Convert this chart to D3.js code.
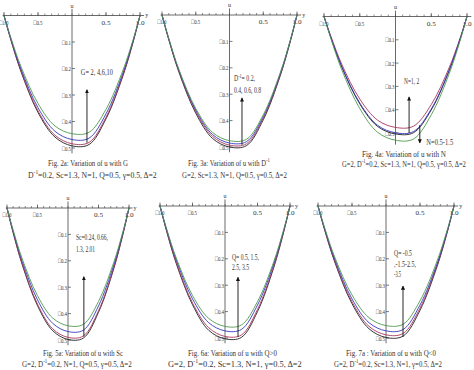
<!DOCTYPE html>
<html>
<head>
<meta charset="utf-8">
<script src="https://cdn.jsdelivr.net/npm/d3@7"></script>
<style>
  body { margin: 0; background: #fff; }
  svg { display: block; }
  text { font-family: "Liberation Serif", "Times New Roman", serif; fill: #333; }
</style>
</head>
<body>
<svg id="chart" width="474" height="370"></svg>
<script>
// sample positions across the channel (y) and tick labels
const ySamples = [-1, -0.9, -0.75, -0.5, -0.25, 0, 0.25, 0.5, 0.75, 0.9, 1];
const xTickValues = [-1, -0.5, 0.5, 1];
const xTickLabels = ["\u25A11.0", "\u25A10.5", "0.5", "1.0"];
const uTickValues = [-0.1, -0.2, -0.3, -0.4, -0.5];
const uTickLabels = ["\u25A10.1", "\u25A10.2", "\u25A10.3", "\u25A10.4", "\u25A10.5"];
const curveColors = ["#4f9a4f", "#3838c0", "#a8375e", "#202020"];

// velocity u: green, blue, red, black
const uWithG = [
  [0, -0.083, -0.193, -0.332, -0.417, -0.446, -0.441, -0.354, -0.206, -0.090, 0],
  [0, -0.087, -0.202, -0.348, -0.437, -0.468, -0.463, -0.371, -0.216, -0.094, 0],
  [0, -0.090, -0.209, -0.360, -0.452, -0.484, -0.479, -0.384, -0.224, -0.097, 0],
  [0, -0.091, -0.212, -0.366, -0.459, -0.492, -0.487, -0.390, -0.227, -0.099, 0]
];
const uWithD = [
  [0, -0.088, -0.206, -0.354, -0.445, -0.476, -0.471, -0.378, -0.220, -0.096, 0],
  [0, -0.090, -0.209, -0.360, -0.453, -0.485, -0.480, -0.385, -0.224, -0.097, 0],
  [0, -0.092, -0.213, -0.366, -0.460, -0.493, -0.488, -0.391, -0.228, -0.099, 0],
  [0, -0.093, -0.216, -0.372, -0.468, -0.500, -0.495, -0.397, -0.231, -0.101, 0]
];
const uWithN = [
  [0, -0.099, -0.230, -0.395, -0.497, -0.531, -0.526, -0.422, -0.246, -0.107, 0],
  [0, -0.093, -0.216, -0.371, -0.467, -0.499, -0.494, -0.397, -0.231, -0.100, 0],
  [0, -0.088, -0.206, -0.354, -0.445, -0.476, -0.471, -0.378, -0.220, -0.096, 0],
  [0, -0.094, -0.218, -0.375, -0.472, -0.504, -0.499, -0.401, -0.233, -0.101, 0]
];
const uWithSc = [
  [0, -0.083, -0.193, -0.332, -0.417, -0.446, -0.441, -0.354, -0.206, -0.090, 0],
  [0, -0.087, -0.202, -0.348, -0.437, -0.468, -0.463, -0.371, -0.216, -0.094, 0],
  [0, -0.091, -0.212, -0.364, -0.458, -0.490, -0.485, -0.389, -0.226, -0.098, 0],
  [0, -0.093, -0.215, -0.370, -0.465, -0.498, -0.493, -0.395, -0.230, -0.100, 0]
];
const uWithQpos = [
  [0, -0.085, -0.197, -0.339, -0.426, -0.456, -0.451, -0.362, -0.211, -0.092, 0],
  [0, -0.088, -0.204, -0.352, -0.442, -0.473, -0.468, -0.375, -0.219, -0.095, 0],
  [0, -0.092, -0.213, -0.367, -0.461, -0.494, -0.489, -0.392, -0.228, -0.099, 0],
  [0, -0.094, -0.218, -0.374, -0.471, -0.503, -0.498, -0.400, -0.233, -0.101, 0]
];
const uWithQneg = [
  [0, -0.084, -0.196, -0.337, -0.423, -0.453, -0.448, -0.359, -0.209, -0.091, 0],
  [0, -0.088, -0.204, -0.352, -0.442, -0.473, -0.468, -0.375, -0.219, -0.095, 0],
  [0, -0.091, -0.211, -0.363, -0.456, -0.488, -0.483, -0.387, -0.225, -0.098, 0],
  [0, -0.093, -0.215, -0.370, -0.465, -0.498, -0.493, -0.395, -0.230, -0.100, 0]
];

const panels = [
  { data: uWithG, px: [4, 140], py: [15.5, 148], uBottom: -0.52, yLabel: true,
    caption: [["Fig. 2a: Variation of u with G", 88, 166, 80], ["D|-1|=0.2, Sc=1.3, N=1, Q=0.5, \u03b3=0.5, \u0394=2", 92.5, 178, 129]],
    notes: [["G= 2, 4,6,10", 0.13, -0.225, 32]],
    arrows: [[0.22, -0.48, -0.28]] },
  { data: uWithD, px: [162, 297], py: [15, 147], uBottom: -0.52, yLabel: true,
    caption: [["Fig. 3a: Variation of u with D|-1|", 229, 166, 82], ["G=2, Sc=1.3, N=1, Q=0.5, \u03b3=0.5, \u0394=2", 234.5, 178, 105]],
    notes: [["D|-1|= 0.2,", 0.067, -0.25, 21], ["0.4, 0.6, 0.8", 0.067, -0.295, 27]],
    arrows: [[0.185, -0.492, -0.314]] },
  { data: uWithN, px: [324, 467], py: [16.5, 133], uBottom: -0.55, yLabel: false,
    caption: [["Fig. 4a: Variation of u with N", 404, 156.5, 84], ["G=2, D|-1|=0.2, Sc=1.3, N=1, Q=0.5, \u03b3=0.5, \u0394=2", 404, 167, 124]],
    notes: [["N=1, 2", 0.12, -0.29, 15], ["N=0.5-1.5", 0.43, -0.55, 27]],
    arrows: [[0.19, -0.5, -0.345], [0.34, -0.466, -0.543]] },
  { data: uWithSc, px: [7, 129], py: [208, 340], uBottom: -0.52, yLabel: true,
    caption: [["Fig. 5a: Variation of u with Sc", 83, 355.5, 80], ["G=2, D|-1|=0.2, N=1, Q=0.5, \u03b3=0.5, \u0394=2", 77, 366.5, 110]],
    notes: [["Sc=0.24, 0.66,", 0.13, -0.121, 32], ["1.3, 2.01", 0.13, -0.166, 19]],
    arrows: [[0.26, -0.487, -0.26]] },
  { data: uWithQpos, px: [160, 290], py: [206, 338], uBottom: -0.52, yLabel: true,
    caption: [["Fig. 6a: Variation of u with Q>0", 232.5, 355.5, 89], ["G=2, D|-1|=0.2, Sc=1.3, N=1,  \u03b3=0.5, \u0394=2", 235, 366.5, 134]],
    notes: [["Q= 0.5, 1.5,", 0.108, -0.205, 27], ["2.5, 3.5", 0.108, -0.242, 17]],
    arrows: [[0.2, -0.496, -0.27]] },
  { data: uWithQneg, px: [318, 454], py: [206, 338], uBottom: -0.52, yLabel: true,
    caption: [["Fig. 7a : Variation of u with Q<0", 391, 355.5, 90], ["G=2, D|-1|=0.2, Sc=1.3, N=1, \u03b3=0.5, \u0394=2", 388, 366.5, 108]],
    notes: [["Q= -0.5", 0.118, -0.19, 18], [",-1.5-2.5,", 0.118, -0.231, 22], ["-3.5", 0.118, -0.269, 7]],
    arrows: [[0.25, -0.496, -0.303]] }
];

const svg = d3.select("#chart");

svg.append("defs").append("marker")
  .attr("id", "head")
  .attr("viewBox", "0 0 10 10")
  .attr("refX", 9).attr("refY", 5)
  .attr("markerWidth", 4.5).attr("markerHeight", 5.5)
  .attr("orient", "auto")
  .append("path")
  .attr("d", "M0,0 L10,5 L0,10 Z")
  .attr("fill", "#111");

// text with "|-1|" parts as superscripts, squeezed sideways to a given width
function squeezedText(parent, str, x, y, size, width, anchor) {
  const t = parent.append("text").style("font-size", size + "px");
  str.split("|").forEach(function (p, i) {
    if (p === "") return;
    const s = t.append("tspan").text(p);
    if (i % 2 === 1) s.attr("dy", -0.4 * size).style("font-size", (0.7 * size) + "px");
    else if (i > 0) s.attr("dy", 0.4 * size);
  });
  const w = t.node().getComputedTextLength();
  const k = w > 0 ? width / w : 1;
  let left = x;
  if (anchor === "middle") left = x - width / 2;
  if (anchor === "end") left = x - width;
  t.attr("transform", "translate(" + left + "," + y + ") scale(" + k + ",1)");
  return t;
}

panels.forEach(function (p) {
  const x = d3.scaleLinear().domain([-1, 1]).range(p.px);
  const u = d3.scaleLinear().domain([0, -0.5]).range(p.py);
  const g = svg.append("g");

  // x axis
  g.append("line")
    .attr("x1", x(-1.02)).attr("x2", x(1.06))
    .attr("y1", u(0)).attr("y2", u(0))
    .attr("stroke", "#444").attr("stroke-width", 0.8);
  const minor = d3.range(-10, 11).map(function (k) { return k / 10; });
  g.selectAll(".minor").data(minor).enter().append("line")
    .attr("x1", function (d) { return x(d); }).attr("x2", function (d) { return x(d); })
    .attr("y1", u(0)).attr("y2", u(0) - 2)
    .attr("stroke", "#444").attr("stroke-width", 0.6);
  g.selectAll(".major").data(xTickValues).enter().append("line")
    .attr("x1", function (d) { return x(d); }).attr("x2", function (d) { return x(d); })
    .attr("y1", u(0)).attr("y2", u(0) - 3.5)
    .attr("stroke", "#444").attr("stroke-width", 0.7);
  xTickValues.forEach(function (d, i) {
    squeezedText(g, xTickLabels[i], x(d), u(0) + 9, 7, 9, "middle");
  });

  // u axis
  g.append("line")
    .attr("x1", x(0)).attr("x2", x(0))
    .attr("y1", u(0.025)).attr("y2", u(p.uBottom))
    .attr("stroke", "#444").attr("stroke-width", 0.8);
  g.selectAll(".ut").data(uTickValues).enter().append("line")
    .attr("x1", x(0)).attr("x2", x(0) + 3)
    .attr("y1", function (d) { return u(d); }).attr("y2", function (d) { return u(d); })
    .attr("stroke", "#444").attr("stroke-width", 0.7);
  uTickValues.forEach(function (d, i) {
    squeezedText(g, uTickLabels[i], x(0) - 1, u(d) + 2.5, 7, 9, "end");
  });

  g.append("text").attr("x", x(0)).attr("y", u(0) - 8)
    .attr("text-anchor", "middle").style("font-size", "6px").text("u");
  if (p.yLabel) {
    g.append("text").attr("x", x(1.1)).attr("y", u(0) + 1.5)
      .attr("text-anchor", "middle").style("font-size", "6px").text("y");
  }

  // curves (black first, green last)
  const line = d3.line()
    .x(function (d, i) { return x(ySamples[i]); })
    .y(function (d) { return u(d); })
    .curve(d3.curveCatmullRom.alpha(0.5));
  [3, 2, 1, 0].forEach(function (k) {
    g.append("path")
      .datum(p.data[k])
      .attr("d", line)
      .attr("fill", "none")
      .attr("stroke", curveColors[k])
      .attr("stroke-width", 0.9);
  });

  // arrows
  p.arrows.forEach(function (a) {
    g.append("line")
      .attr("x1", x(a[0])).attr("x2", x(a[0]))
      .attr("y1", u(a[1])).attr("y2", u(a[2]))
      .attr("stroke", "#111").attr("stroke-width", 0.9)
      .attr("marker-end", "url(#head)");
  });

  // annotations
  p.notes.forEach(function (n) {
    squeezedText(g, n[0], x(n[1]), u(n[2]), 8.5, n[3], "start");
  });

  // captions
  p.caption.forEach(function (c) {
    squeezedText(g, c[0], c[1], c[2], 9, c[3], "middle");
  });
});
</script>
</body>
</html>
